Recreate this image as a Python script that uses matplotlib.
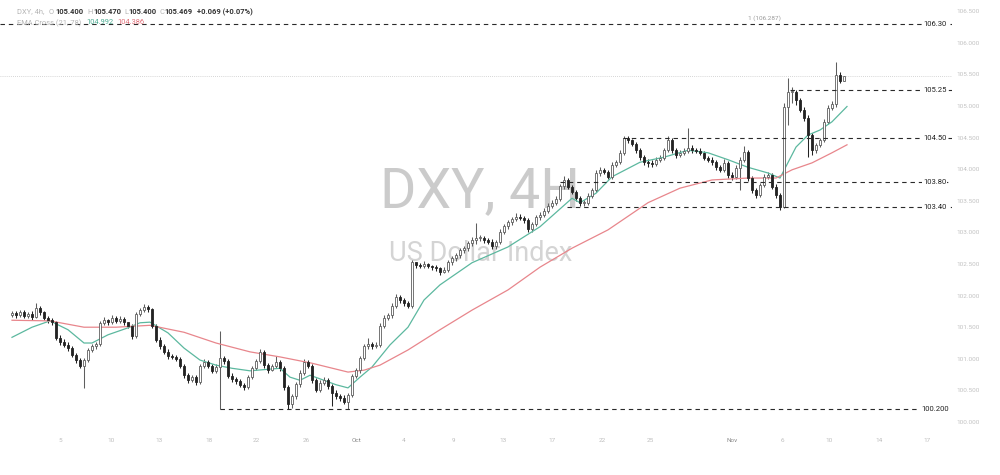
import numpy as np
import matplotlib
matplotlib.use('Agg')
import matplotlib.pyplot as plt
from matplotlib.transforms import blended_transform_factory

plt.rcParams['font.family'] = ['Roboto', 'DejaVu Sans']

# DXY 4h candles, open of each bar = previous close
first_open = 101.70
closes = [
    101.72, 101.69, 101.74, 101.68, 101.71, 101.66, 101.80, 101.74, 101.65, 101.61,
    101.58, 101.33, 101.27, 101.22, 101.17, 101.06, 100.98, 100.89, 100.98, 101.14,
    101.20, 101.23, 101.57, 101.61, 101.58, 101.65, 101.60, 101.63, 101.58, 101.52,
    101.36, 101.71, 101.77, 101.82, 101.79, 101.52, 101.30, 101.20, 101.11, 101.04,
    101.03, 101.00, 100.89, 100.74, 100.66, 100.71, 100.63, 100.89, 100.95, 100.89,
    100.81, 100.87, 101.01, 100.97, 100.73, 100.68, 100.65, 100.59, 100.55, 100.71,
    100.85, 100.97, 101.11, 100.90, 100.82, 100.89, 100.95, 100.85, 100.55, 100.28,
    100.41, 100.60, 100.78, 100.95, 100.89, 100.66, 100.51, 100.62, 100.66, 100.57,
    100.46, 100.41, 100.38, 100.32, 100.43, 100.73, 100.82, 101.01, 101.20, 101.23,
    101.20, 101.22, 101.52, 101.65, 101.69, 101.84, 101.98, 101.93, 101.88, 101.84,
    102.53, 102.48, 102.47, 102.50, 102.47, 102.45, 102.44, 102.37, 102.41, 102.53,
    102.59, 102.64, 102.72, 102.75, 102.83, 102.88, 102.91, 102.91, 102.88, 102.85,
    102.78, 102.85, 103.01, 103.10, 103.16, 103.21, 103.24, 103.23, 103.20, 103.05,
    103.13, 103.24, 103.28, 103.34, 103.42, 103.47, 103.53, 103.73, 103.83, 103.72,
    103.64, 103.54, 103.47, 103.47, 103.58, 103.67, 103.94, 103.99, 103.96, 103.88,
    104.07, 104.11, 104.26, 104.49, 104.46, 104.40, 104.30, 104.19, 104.11, 104.10,
    104.08, 104.15, 104.18, 104.30, 104.46, 104.30, 104.22, 104.26, 104.29, 104.34,
    104.30, 104.29, 104.26, 104.18, 104.15, 104.11, 104.03, 103.99, 104.10, 103.91,
    103.88, 104.02, 104.15, 104.27, 103.86, 103.67, 103.59, 103.75, 103.88, 103.91,
    103.72, 103.59, 103.40, 104.98, 105.22, 105.22, 105.09, 104.94, 104.81, 104.54,
    104.30, 104.38, 104.46, 104.75, 104.97, 105.03, 105.49, 105.40, 105.469,
]
highs = [
    101.76, 101.75, 101.78, 101.77, 101.74, 101.75, 101.88, 101.83, 101.76, 101.68,
    101.64, 101.60, 101.38, 101.31, 101.26, 101.20, 101.09, 101.02, 101.01, 101.17,
    101.24, 101.27, 101.60, 101.66, 101.63, 101.70, 101.68, 101.67, 101.66, 101.56,
    101.55, 101.74, 101.80, 101.87, 101.85, 101.81, 101.55, 101.34, 101.24, 101.15,
    101.08, 101.06, 101.03, 100.92, 100.78, 100.75, 100.74, 100.92, 101.00, 100.98,
    100.92, 100.91, 101.44, 101.04, 101.00, 100.77, 100.72, 100.68, 100.62, 100.74,
    100.88, 101.00, 101.16, 101.14, 100.93, 100.92, 101.05, 100.98, 100.88, 100.58,
    100.45, 100.64, 100.82, 100.99, 100.98, 100.92, 100.70, 100.66, 100.72, 100.70,
    100.60, 100.50, 100.45, 100.42, 100.46, 100.76, 100.86, 101.05, 101.24, 101.33,
    101.27, 101.26, 101.56, 101.69, 101.73, 101.88, 102.02, 102.01, 101.96, 101.92,
    102.56, 102.52, 102.51, 102.54, 102.51, 102.49, 102.48, 102.46, 102.45, 102.57,
    102.63, 102.68, 102.76, 102.79, 102.87, 102.92, 103.15, 102.96, 102.94, 102.91,
    102.89, 102.88, 103.05, 103.14, 103.20, 103.25, 103.30, 103.29, 103.26, 103.23,
    103.17, 103.28, 103.32, 103.38, 103.46, 103.51, 103.57, 103.77, 103.90, 103.86,
    103.75, 103.67, 103.57, 103.51, 103.62, 103.71, 103.98, 104.03, 104.02, 103.99,
    104.11, 104.15, 104.30, 104.53, 104.52, 104.48, 104.43, 104.33, 104.22, 104.16,
    104.14, 104.19, 104.22, 104.34, 104.52, 104.50, 104.33, 104.30, 104.33, 104.65,
    104.38, 104.34, 104.33, 104.29, 104.21, 104.19, 104.14, 104.06, 104.16, 104.13,
    103.95, 104.06, 104.19, 104.36, 104.30, 103.90, 103.71, 103.78, 103.92, 103.95,
    103.94, 103.76, 103.62, 105.05, 105.45, 105.30, 105.26, 105.13, 104.98, 104.85,
    104.58, 104.42, 104.50, 104.79, 105.01, 105.08, 105.70, 105.53, 105.47,
]
lows = [
    101.66, 101.65, 101.66, 101.64, 101.65, 101.62, 101.64, 101.70, 101.61, 101.57,
    101.54, 101.30, 101.22, 101.18, 101.12, 101.03, 100.94, 100.85, 100.54, 100.95,
    101.10, 101.16, 101.20, 101.54, 101.54, 101.55, 101.56, 101.57, 101.54, 101.48,
    101.31, 101.33, 101.68, 101.74, 101.74, 101.49, 101.26, 101.16, 101.07, 101.00,
    100.99, 100.96, 100.85, 100.70, 100.61, 100.63, 100.58, 100.60, 100.86, 100.85,
    100.77, 100.78, 100.20, 100.92, 100.70, 100.64, 100.60, 100.55, 100.50, 100.52,
    100.68, 100.82, 100.94, 100.86, 100.78, 100.80, 100.86, 100.81, 100.50, 100.20,
    100.22, 100.37, 100.56, 100.74, 100.85, 100.62, 100.47, 100.48, 100.58, 100.53,
    100.25, 100.37, 100.34, 100.28, 100.20, 100.40, 100.70, 100.78, 100.98, 101.16,
    101.16, 101.17, 101.19, 101.48, 101.61, 101.65, 101.80, 101.89, 101.84, 101.80,
    101.80, 102.44, 102.43, 102.44, 102.43, 102.41, 102.39, 102.33, 102.35, 102.38,
    102.49, 102.55, 102.60, 102.68, 102.71, 102.79, 102.82, 102.87, 102.84, 102.81,
    102.74, 102.74, 102.82, 102.97, 103.06, 103.12, 103.18, 103.19, 103.15, 103.00,
    103.01, 103.10, 103.20, 103.25, 103.30, 103.38, 103.43, 103.50, 103.69, 103.68,
    103.60, 103.50, 103.42, 103.42, 103.43, 103.55, 103.64, 103.90, 103.92, 103.84,
    103.85, 104.03, 104.08, 104.22, 104.41, 104.36, 104.26, 104.15, 104.06, 104.03,
    104.04, 104.05, 104.12, 104.15, 104.27, 104.26, 104.18, 104.19, 104.23, 104.26,
    104.26, 104.25, 104.22, 104.14, 104.11, 104.07, 103.99, 103.95, 103.96, 103.86,
    103.83, 103.84, 103.67, 104.12, 103.82, 103.62, 103.55, 103.56, 103.72, 103.84,
    103.68, 103.55, 103.36, 103.38, 104.70, 105.05, 105.02, 104.90, 104.76, 104.19,
    104.22, 104.26, 104.35, 104.43, 104.72, 104.93, 104.99, 105.36, 105.40,
]

# EMA lines, sampled along the curves (bar index, value)
ema21_x = [0, 5, 9.5, 14, 18, 20, 24, 29, 32, 34.5, 39, 43, 47, 51, 55, 59.5, 67, 69.5,
           72, 74.5, 78, 81, 84, 87, 90, 94.5, 99, 103, 107, 115, 124, 132, 140, 142,
           146, 150, 157, 163, 169, 174, 179, 184, 189, 192, 196, 199, 202, 205, 208.75]
ema21_y = [101.34, 101.50, 101.60, 101.46, 101.25, 101.25, 101.38, 101.49, 101.57, 101.58,
           101.41, 101.17, 100.98, 100.90, 100.85, 100.81, 100.85, 100.71, 100.66, 100.74,
           100.66, 100.59, 100.54, 100.71, 100.87, 101.22, 101.50, 101.93, 102.17, 102.52,
           102.77, 103.09, 103.54, 103.47, 103.62, 103.88, 104.11, 104.19, 104.30, 104.26,
           104.15, 104.03, 103.94, 103.86, 104.35, 104.54, 104.62, 104.75, 104.992]
ema78_x = [0, 9.5, 18, 26, 34.5, 43, 51, 59.5, 67, 75, 84, 88, 92, 99, 107, 115, 124,
           132, 140, 149, 159, 167, 175, 184, 191, 195, 200, 205, 208.75]
ema78_y = [101.61, 101.60, 101.50, 101.50, 101.53, 101.42, 101.25, 101.11, 101.03, 100.93,
           100.79, 100.82, 100.90, 101.14, 101.46, 101.77, 102.09, 102.45, 102.75, 103.04,
           103.47, 103.70, 103.83, 103.86, 103.86, 103.99, 104.10, 104.26, 104.386]

# hand drawn levels
levels = [106.30, 105.25, 104.50, 103.80, 103.40, 100.20]
level_labels = ['106.30', '105.25', '104.50', '103.80', '103.40', '100.200']
level_start = [-3, 194.5, 152.75, 137, 138.75, 52]

date_labels = ['5', '10', '13', '18', '22', '26', 'Oct', '4', '9', '13', '17', '22', '25',
               'Nov', '6', '10', '14', '17']
date_pos = [12, 24.75, 36.75, 49.25, 61, 73.5, 86.25, 98, 110.5, 122.75, 135, 147.5,
            159.5, 180, 192.5, 204.25, 216.75, 228.75]

last_price = 105.469

fig = plt.figure(figsize=(10, 4.75), dpi=100)
ax = fig.add_axes([0, 1 - 432 / 475, 0.952, 432 / 475])
ax.set_xlim(-3, 235)
ax.set_ylim(99.842, 106.677)
for s in ax.spines.values():
    s.set_visible(False)

# watermark
ax.text(0.504, 0.556, 'DXY, 4H', transform=ax.transAxes, ha='center', va='center',
        fontsize=40, color='#cbcbcb', zorder=0)
ax.text(0.505, 0.414, 'US Dollar Index', transform=ax.transAxes, ha='center', va='center',
        fontsize=19.5, color='#d4d4d4', zorder=0)

# candles
c = np.array(closes)
o = np.array([first_open] + closes[:-1])
h = np.array(highs)
l = np.array(lows)
x = np.arange(len(c))
up = c >= o
up_col = '#5e5e5e'
dn_col = '#232323'
ax.vlines(x, l, h, colors=np.where(up, up_col, dn_col), lw=0.75, zorder=2)
ax.bar(x[up], np.maximum((c - o)[up], 0.015), bottom=o[up], width=0.7,
       color='white', edgecolor=up_col, lw=0.6, zorder=3)
ax.bar(x[~up], np.maximum((o - c)[~up], 0.015), bottom=c[~up], width=0.7,
       color=dn_col, edgecolor=dn_col, lw=0.6, zorder=3)

ax.plot(ema21_x, ema21_y, color='#5cb89f', lw=0.9, zorder=2.5)
ax.plot(ema78_x, ema78_y, color='#e8868c', lw=0.9, zorder=2.5)

# last price line
ax.axhline(last_price, color='#c8c8c8', ls=(0, (1, 1.5)), lw=0.6, zorder=1)

# levels
trans = blended_transform_factory(ax.transAxes, ax.transData)
ax.hlines(levels, level_start, 235, colors='#2a2a2a', linestyles=(0, (4, 3.5)), lw=0.8, zorder=4)
for lv, lab in zip(levels, level_labels):
    ax.text(0.982, lv, lab, transform=trans, ha='center', va='center', fontsize=5.5,
            color='#222222', zorder=5,
            bbox=dict(facecolor='white', edgecolor='none', pad=0.6))

# axes ticks
yt = np.arange(100, 106.51, 0.5)
ax.yaxis.tick_right()
ax.set_yticks(yt)
ax.set_yticklabels([f'{v:.3f}' for v in yt])
ax.tick_params(axis='y', length=0, pad=3.5, labelsize=4.6, labelcolor='#c2c2c2')
ax.set_xticks(date_pos)
ax.set_xticklabels(date_labels)
ax.tick_params(axis='x', length=0, pad=4.5, labelsize=4.6, labelcolor='#bdbdbd')
for t in ax.get_xticklabels():
    if t.get_text() in ('Oct', 'Nov'):
        t.set_color('#8a8a8a')

# header
def ftext(px, py, s, color, weight='normal', size=5.4):
    fig.text(px / 1000, 1 - py / 475, s, color=color, fontsize=size, fontweight=weight,
             ha='left', va='center')

ftext(17, 12, 'DXY, 4h,', '#b5b5b5')
ftext(49, 12, 'O', '#b5b5b5')
ftext(55, 12, '105.400', '#333333', 'bold')
ftext(87, 12, 'H', '#b5b5b5')
ftext(93, 12, '105.470', '#333333', 'bold')
ftext(124, 12, 'L', '#b5b5b5')
ftext(128, 12, '105.400', '#333333', 'bold')
ftext(159, 12, 'C', '#b5b5b5')
ftext(164, 12, '105.469', '#333333', 'bold')
ftext(197, 12, '+0.069 (+0.07%)', '#333333', 'bold')
ftext(17, 23, 'EMA Cross (21, 78)', '#b5b5b5')
ftext(86, 23, '104.992', '#4fae94')
ftext(117, 23, '104.386', '#e0707a')
ftext(748, 18, '1 (106.287)', '#9a9a9a', size=4.6)

fig.savefig('out.png', dpi=100)
